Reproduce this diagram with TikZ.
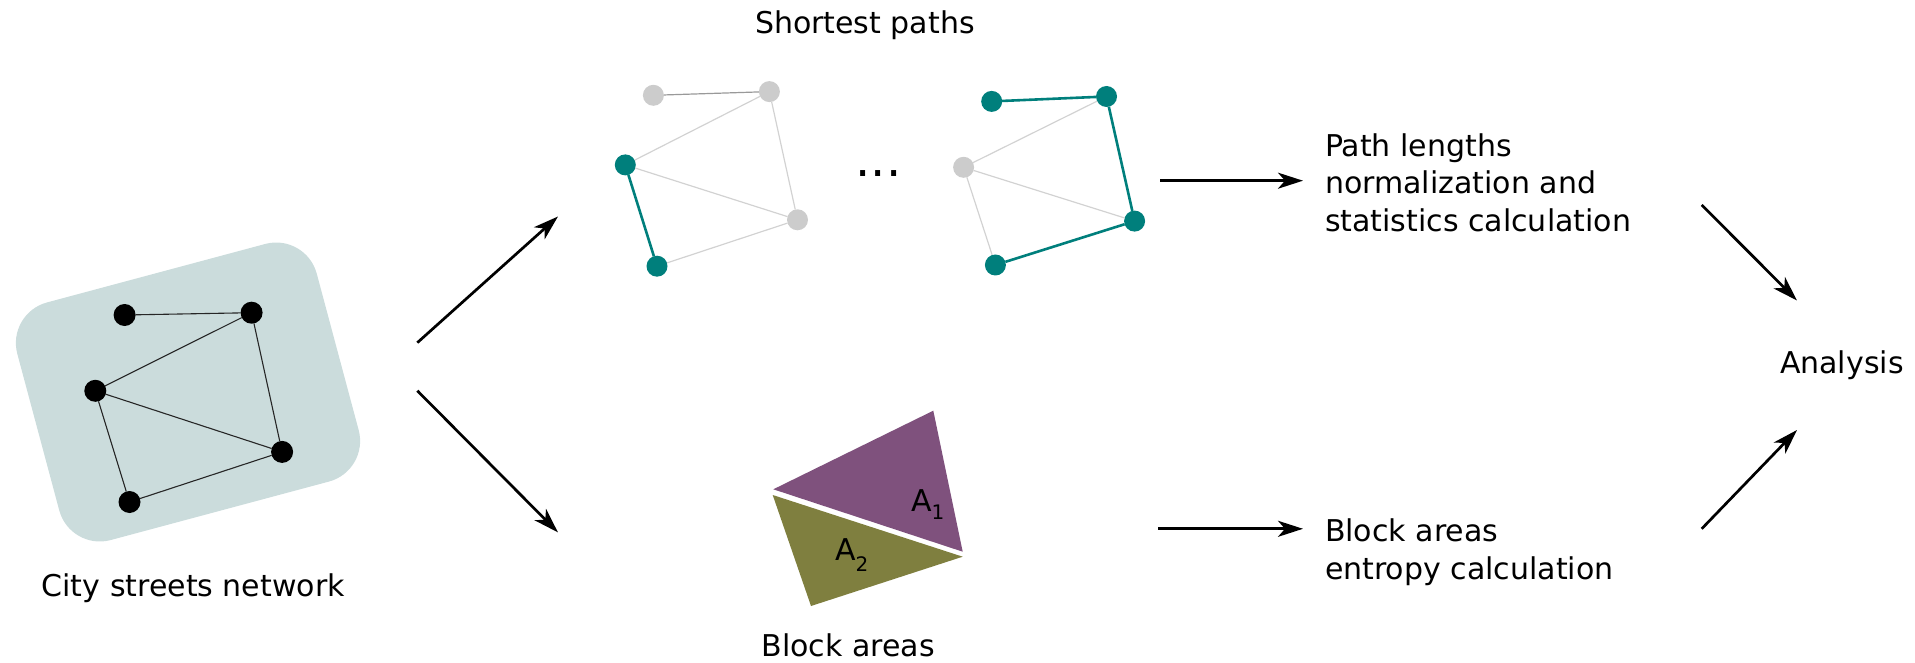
\documentclass[tikz,border=0pt]{standalone}
\usepackage{fontspec}
\setmainfont{DejaVu Sans}
\usetikzlibrary{arrows.meta}
\definecolor{boxcol}{HTML}{CBDCDC}
\definecolor{tealc}{HTML}{007F7C}
\definecolor{nodegray}{HTML}{CCCCCC}
\definecolor{edgegray}{HTML}{D2D2D2}
\definecolor{purplec}{HTML}{7F517D}
\definecolor{olivec}{HTML}{7F7F3F}
\begin{document}
\begin{tikzpicture}[x=1pt,y=-1pt,
  every node/.style={inner sep=0pt, outer sep=0pt, font=\fontsize{30}{37.8}\selectfont},
  bdot/.style={circle, fill=black, minimum size=22pt},
  gdot/.style={circle, fill=nodegray, minimum size=21pt},
  tdot/.style={circle, fill=tealc, minimum size=21pt},
  bedge/.style={draw=black!85, line width=1.1pt},
  gedge/.style={draw=edgegray, line width=1.2pt},
  gedgedark/.style={draw=black!40, line width=1.2pt},
  tedge/.style={draw=tealc, line width=2.6pt},
  flow/.style={-{Stealth[length=25pt,width=16pt,inset=7pt]}, line width=2.7pt},
  lbl/.style={anchor=base west, align=left}]
\useasboundingbox (0,0) rectangle (1915,663);

% city box
\node[fill=boxcol, rounded corners=42pt, minimum width=310pt, minimum height=246pt, rotate=15] (box) at (188,392) {};

% left graph
\node[bdot] (l1) at (124.6,315) {};
\node[bdot] (l2) at (251.6,312.7) {};
\node[bdot] (l3) at (95.3,390.8) {};
\node[bdot] (l4) at (282.1,451.9) {};
\node[bdot] (l5) at (129.5,502) {};
\draw[bedge] (l1) -- (l2);
\draw[bedge] (l2) -- (l3);
\draw[bedge] (l2) -- (l4);
\draw[bedge] (l3) -- (l4);
\draw[bedge] (l3) -- (l5);
\draw[bedge] (l5) -- (l4);
\node[lbl] (city) at (41.7,596) {City streets network};

% shortest path graph 1
\node[gdot] (a1n) at (653.4,95.3) {};
\node[gdot] (a2n) at (769.4,91.6) {};
\node[tdot] (a3n) at (625.3,164.9) {};
\node[gdot] (a4n) at (797.5,219.8) {};
\node[tdot] (a5n) at (657,266.2) {};
\draw[gedgedark] (a1n) -- (a2n);
\draw[gedge] (a2n) -- (a3n);
\draw[gedge] (a2n) -- (a4n);
\draw[gedge] (a3n) -- (a4n);
\draw[tedge] (a3n) -- (a5n);
\draw[gedge] (a5n) -- (a4n);

% shortest path graph 2
\node[tdot] (b1n) at (991.7,101.4) {};
\node[tdot] (b2n) at (1106.5,96.5) {};
\node[gdot] (b3n) at (963.6,167.3) {};
\node[tdot] (b4n) at (1134.6,221.1) {};
\node[tdot] (b5n) at (995.4,265) {};
\draw[tedge] (b1n) -- (b2n);
\draw[gedge] (b2n) -- (b3n);
\draw[tedge] (b2n) -- (b4n);
\draw[gedge] (b3n) -- (b4n);
\draw[gedge] (b3n) -- (b5n);
\draw[tedge] (b5n) -- (b4n);

\node (dots) at (878.6,173.4) {\fontsize{48}{48}\selectfont ...};
\node[lbl] (sp) at (755,33.3) {Shortest paths};

% block areas
\fill[purplec] (773.3,489.3) -- (933.3,410.7) -- (962.7,551.7) -- cycle;
\fill[olivec] (772.7,495) -- (962.7,556.7) -- (811,606) -- cycle;
\node[lbl] (A1) at (911,511.7) {A\raisebox{-8pt}{\fontsize{20}{20}\selectfont 1}};
\node[lbl] (A2) at (835,560.7) {A\raisebox{-11pt}{\fontsize{20}{20}\selectfont 2}};
\node[lbl] (ba) at (761.7,656.7) {Block areas};

% right texts (anchor at last line baseline)
\node[lbl] (pl) at (1325,231.7) {Path lengths\\normalization and\\statistics calculation};
\node[lbl] (be) at (1325,579.3) {Block areas\\entropy calculation};
\node[lbl] (an) at (1780,373.3) {Analysis};

% arrows
\coordinate (s1) at (417.3,342.7); \coordinate (e1) at (558,216.5);
\coordinate (s2) at (417.3,390.7); \coordinate (e2) at (558,532.4);
\coordinate (s3) at (1160,180.7);  \coordinate (e3) at (1303,180.7);
\coordinate (s4) at (1158,528.8);  \coordinate (e4) at (1303,528.8);
\coordinate (s5) at (1701.7,205);  \coordinate (e5) at (1797,300.5);
\coordinate (s6) at (1701.7,528.8); \coordinate (e6) at (1797,430);
\draw[flow] (s1) -- (e1);
\draw[flow] (s2) -- (e2);
\draw[flow] (s3) -- (e3);
\draw[flow] (s4) -- (e4);
\draw[flow] (s5) -- (e5);
\draw[flow] (s6) -- (e6);
\end{tikzpicture}
\end{document}
